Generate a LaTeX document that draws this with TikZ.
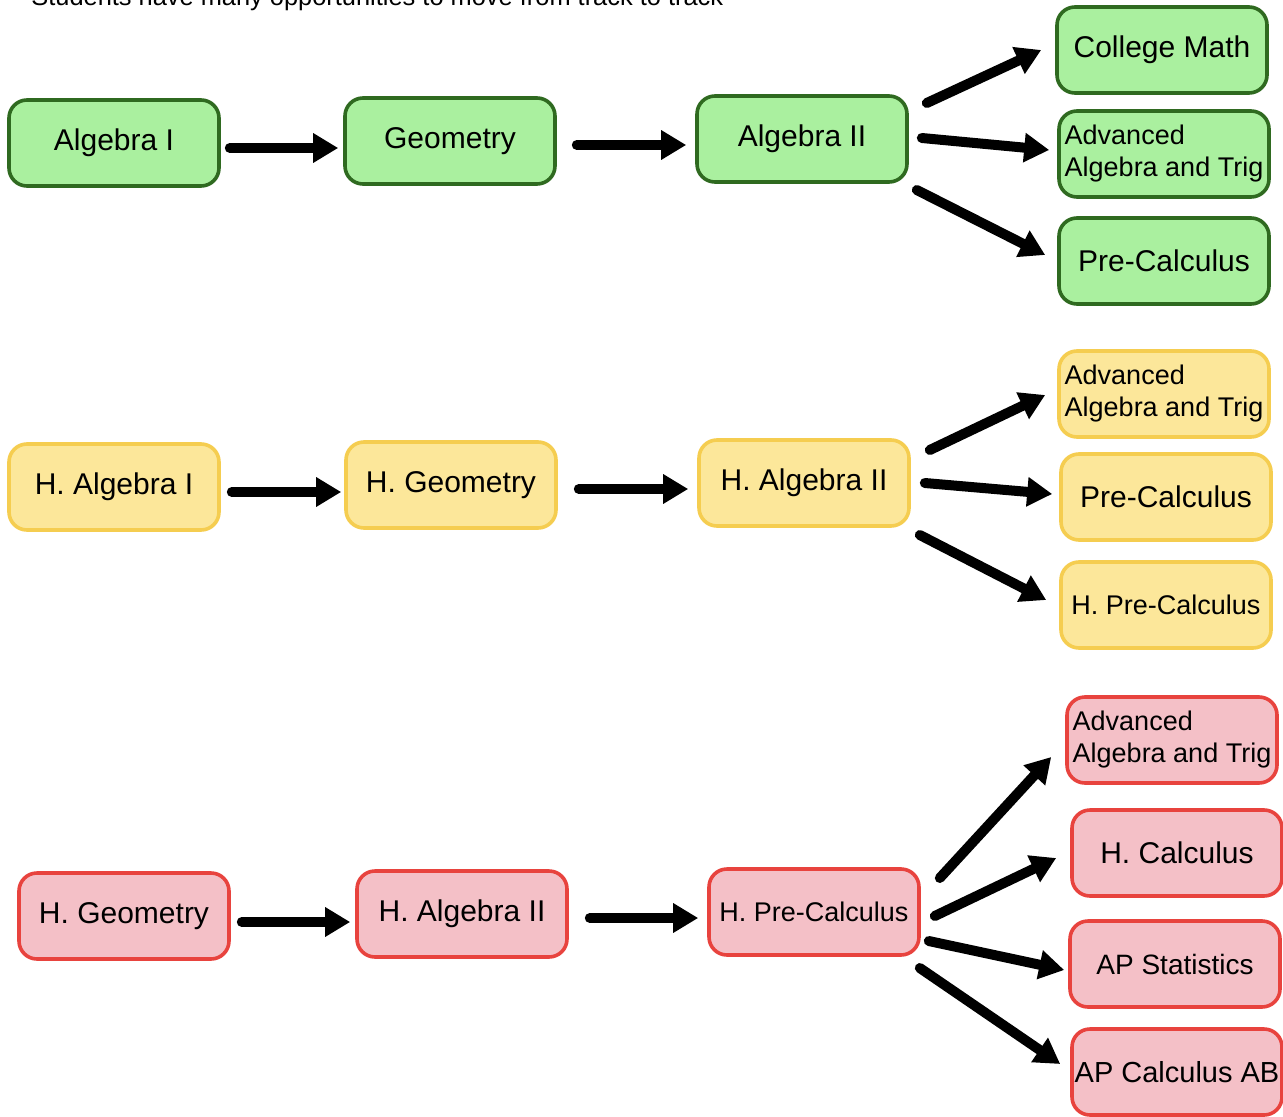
\documentclass[tikz,border=0pt]{standalone}
\usepackage{fontspec}
\setmainfont{Liberation Sans}
\usetikzlibrary{arrows.meta}
\definecolor{greenfill}{HTML}{AAF09F}
\definecolor{greenline}{HTML}{2F6A20}
\definecolor{yellowfill}{HTML}{FCE79A}
\definecolor{yellowline}{HTML}{F5CD50}
\definecolor{redfill}{HTML}{F4C0C7}
\definecolor{redline}{HTML}{E8433E}

\begin{document}
\begin{tikzpicture}
[every node/.style={inner sep=2pt},
 course/.style={rectangle, rounded corners=9pt, minimum width=105pt, minimum height=43pt, line width=1.8pt, font=\fontsize{15}{18}\selectfont},
 green box/.style={course, fill=greenfill, draw=greenline},
 yellow box/.style={course, fill=yellowfill, draw=yellowline},
 red box/.style={course, fill=redfill, draw=redline},
 two line/.style={align=left, inner sep=1pt, font=\fontsize{13.5}{16}\selectfont},
 flow/.style={line width=5pt, line cap=round, -{Triangle[length=12.5pt, width=14pt]}, color=black}]
\useasboundingbox (0pt, 0pt) rectangle (641.5pt, -558.5pt);
\node (title) [anchor=base west, font=\fontsize{12.7}{15}\selectfont] at (13.5pt, -3pt) {Students have many opportunities to move from track to track};
% regular track
\node (g1) [green box] at (57pt, -71.5pt) {Algebra I};
\node (g2) [green box] at (225pt, -70.5pt) {Geometry};
\node (g3) [green box] at (401pt, -69.5pt) {Algebra II};
\node (g4) [green box] at (581pt, -25pt) {College Math};
\node (g5) [green box, two line] at (582pt, -77pt) {Advanced\\Algebra and Trig};
\node (g6) [green box] at (582pt, -130.5pt) {Pre-Calculus};
% honors track
\node (y1) [yellow box] at (57pt, -243.5pt) {H. Algebra I};
\node (y2) [yellow box] at (225.5pt, -242.5pt) {H. Geometry};
\node (y3) [yellow box] at (402pt, -241.5pt) {H. Algebra II};
\node (y4) [yellow box, two line] at (582pt, -197pt) {Advanced\\Algebra and Trig};
\node (y5) [yellow box] at (583pt, -248.5pt) {Pre-Calculus};
\node (y6) [yellow box, font=\fontsize{13.5}{16}\selectfont] at (583pt, -302.5pt) {H. Pre-Calculus};
% accelerated track
\node (r1) [red box] at (62pt, -458pt) {H. Geometry};
\node (r2) [red box] at (231pt, -457pt) {H. Algebra II};
\node (r3) [red box, font=\fontsize{13.5}{16}\selectfont] at (407pt, -456pt) {H. Pre-Calculus};
\node (r4) [red box, two line] at (586pt, -370pt) {Advanced\\Algebra and Trig};
\node (r5) [red box] at (588.5pt, -426.5pt) {H. Calculus};
\node (r6) [red box, font=\fontsize{14}{17}\selectfont] at (587.5pt, -482pt) {AP Statistics};
\node (r7) [red box, font=\fontsize{14.5}{17}\selectfont, inner sep=0pt] at (588.5pt, -536pt) {AP Calculus AB};
\draw [flow] ([shift={(4.5pt,-2.5pt)}]g1.east) to ([shift={(-2.5pt,-3.5pt)}]g2.west);
\draw [flow] ([shift={(10pt,-2pt)}]g2.east) to ([shift={(-4.5pt,-3pt)}]g3.west);
\draw [flow] ([shift={(9pt,18pt)}]g3.east) to ([shift={(-7pt,0pt)}]g4.west);
\draw [flow] ([shift={(6.5pt,0.5pt)}]g3.east) to ([shift={(-4pt,2pt)}]g5.west);
\draw [flow] ([shift={(4pt,-25.5pt)}]g3.east) to ([shift={(-6pt,3pt)}]g6.west);
\draw [flow] ([shift={(5.5pt,-2.5pt)}]y1.east) to ([shift={(-1.5pt,-3.5pt)}]y2.west);
\draw [flow] ([shift={(10.5pt,-2pt)}]y2.east) to ([shift={(-4.5pt,-3pt)}]y3.west);
\draw [flow] ([shift={(9.5pt,16.5pt)}]y3.east) to ([shift={(-6pt,-0.5pt)}]y4.west);
\draw [flow] ([shift={(7pt,0pt)}]y3.east) to ([shift={(-3.5pt,1.5pt)}]y5.west);
\draw [flow] ([shift={(4.5pt,-26pt)}]y3.east) to ([shift={(-6.5pt,2.5pt)}]y6.west);
\draw [flow] ([shift={(5.5pt,-3pt)}]r1.east) to ([shift={(-2.5pt,-4pt)}]r2.west);
\draw [flow] ([shift={(10.5pt,-2pt)}]r2.east) to ([shift={(-4.5pt,-3pt)}]r3.west);
\draw [flow] ([shift={(9.5pt,17pt)}]r3.east) to ([shift={(-7pt,-8.5pt)}]r4.west);
\draw [flow] ([shift={(7pt,-2pt)}]r3.east) to ([shift={(-7pt,-2.5pt)}]r5.west);
\draw [flow] ([shift={(4pt,-14.5pt)}]r3.east) to ([shift={(-2pt,-3pt)}]r6.west);
\draw [flow] ([shift={(-0.5pt,-28pt)}]r3.east) to ([shift={(-5pt,4pt)}]r7.west);
\end{tikzpicture}
\end{document}
